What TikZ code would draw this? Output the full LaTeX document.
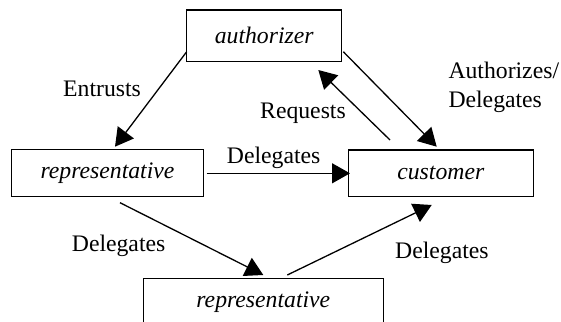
\documentclass[tikz,border=0pt]{standalone}
\usepackage{fontspec}
\setmainfont{Liberation Serif}
\usetikzlibrary{arrows.meta}
\begin{document}
\begin{tikzpicture}[x=1pt,y=-1pt,
  box/.style={draw,line width=1.5pt,inner sep=0pt,font=\fontsize{23.7}{27}\selectfont\itshape},
  lbl/.style={font=\fontsize{23.7}{27}\selectfont,inner sep=0pt,anchor=base west},
  arr/.style={line width=1.3pt,-{Triangle[length=18pt,width=20pt]}}]
\useasboundingbox (0,0) rectangle (561,321);
\node[box,minimum width=155pt,minimum height=51.7pt] (auth) at (264.2,35.8) {authorizer};
\node[box,minimum width=191.6pt,minimum height=47.4pt] (rep1) at (107.5,173) {representative};
\node[box,minimum width=185pt,minimum height=46.7pt] (cust) at (440.8,173.3) {customer};
\node[box,minimum width=240pt,minimum height=47pt] (rep2) at (263.3,301.8) {representative};
% connector end points
\coordinate (a1) at (186.7,51.7);
\coordinate (b1) at (115,146.7);
\coordinate (a2) at (343.3,51.7);
\coordinate (b2) at (436.7,146.7);
\coordinate (a3) at (390,140);
\coordinate (b3) at (318.3,70);
\coordinate (a4) at (206.7,173.3);
\coordinate (b4) at (350,173.3);
\coordinate (a5) at (120,202.7);
\coordinate (b5) at (263.3,275);
\coordinate (a6) at (287.3,275);
\coordinate (b6) at (431.7,205);
\draw[arr] (a1) -- (b1);
\draw[arr] (a2) -- (b2);
\draw[arr] (a3) -- (b3);
\draw[arr] (a4) -- (b4);
\draw[arr] (a5) -- (b5);
\draw[arr] (a6) -- (b6);
\node[lbl] (l1) at (63,96.7) {Entrusts};
\node[lbl] (l2a) at (448.3,78.3) {Authorizes/};
\node[lbl] (l2b) at (448.3,107.8) {Delegates};
\node[lbl] (l3) at (260,118.3) {Requests};
\node[lbl] (l4) at (226.7,163) {Delegates};
\node[lbl] (l5) at (71.7,251.7) {Delegates};
\node[lbl] (l6) at (395,258.3) {Delegates};
\end{tikzpicture}
\end{document}
